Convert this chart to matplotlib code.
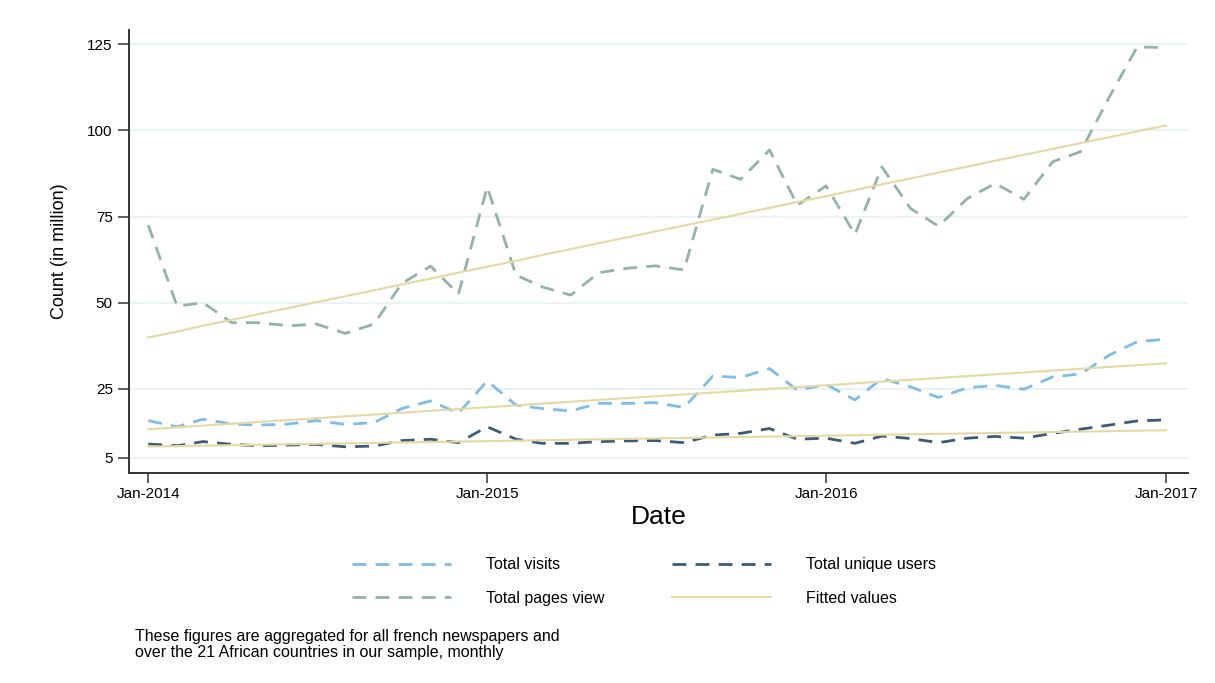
import numpy as np
import pandas as pd
import matplotlib
matplotlib.use("Agg")
import matplotlib.pyplot as plt
import matplotlib.dates as mdates

plt.rcParams["font.family"] = ["Liberation Sans", "DejaVu Sans"]

# monthly series, Jan-2014 .. Jan-2017 (millions)
months = pd.date_range("2014-01-01", periods=37, freq="MS")
total_visits = [15.8, 14.0, 16.2, 14.8, 14.5, 14.8, 15.8, 14.7, 15.2, 19.3, 21.5, 17.9,
                27.3, 20.3, 19.3, 18.6, 20.8, 20.8, 21.0, 19.6, 28.7, 28.3, 30.9, 24.6,
                26.3, 21.8, 28.0, 25.6, 22.5, 25.3, 26.0, 24.9, 28.5, 29.3, 34.8, 38.7, 39.4]
unique_users = [9.0, 8.5, 9.7, 8.9, 8.5, 8.7, 8.9, 8.2, 8.4, 10.0, 10.4, 9.4,
                14.0, 10.4, 9.2, 9.2, 9.7, 9.9, 10.0, 9.4, 11.6, 12.1, 13.5, 10.4,
                10.7, 9.2, 11.3, 10.6, 9.4, 10.7, 11.2, 10.7, 12.1, 13.3, 14.5, 15.7, 16.0]
pages_view = [72.5, 49.0, 50.0, 44.2, 44.2, 43.3, 43.8, 41.1, 43.8, 55.6, 60.6, 52.5,
              83.6, 58.0, 54.6, 52.2, 58.7, 60.0, 60.7, 59.5, 88.7, 85.8, 94.3, 78.3,
              83.9, 69.8, 89.4, 77.3, 72.2, 80.2, 84.6, 80.0, 90.9, 93.8, 109.7, 124.2, 124.0]
y_ticks = [5, 25, 50, 75, 100, 125]

c_visits = "#7dbde8"
c_users = "#3b5c78"
c_pages = "#93b3a5"
c_fit = "#e6d8a2"

t = np.arange(len(months))

fig = plt.figure(figsize=(12.15, 6.83), dpi=100)
ax = fig.add_axes([0.106, 0.308, 0.872, 0.648])

for yt in y_ticks:
    ax.axhline(yt, color="#eaf2f4", lw=1.6, zorder=0)

dash = (5, 3.3)
l1, = ax.plot(months, total_visits, color=c_visits, lw=2.0, dashes=dash)
l2, = ax.plot(months, unique_users, color=c_users, lw=2.0, dashes=dash)
l3, = ax.plot(months, pages_view, color=c_pages, lw=2.0, dashes=dash)

# linear trends
l4 = None
for series in (pages_view, total_visits, unique_users):
    b, a = np.polyfit(t, series, 1)
    l4, = ax.plot(months, a + b * t, color=c_fit, lw=1.5)

ax.set_xlim(months[0] - pd.Timedelta(days=21), months[-1] + pd.Timedelta(days=24))
ax.set_ylim(0.7, 129.1)
ax.set_yticks(y_ticks)
ax.set_xticks([pd.Timestamp("2014-01-01"), pd.Timestamp("2015-01-01"),
               pd.Timestamp("2016-01-01"), pd.Timestamp("2017-01-01")])
ax.xaxis.set_major_formatter(mdates.DateFormatter("%b-%Y"))
ax.tick_params(axis="both", labelsize=11, length=7, width=1.2, color="#444444", direction="out")
ax.tick_params(axis="y", length=8)
ax.spines["top"].set_visible(False)
ax.spines["right"].set_visible(False)
for s in ("left", "bottom"):
    ax.spines[s].set_linewidth(1.4)
    ax.spines[s].set_color("#333333")

ax.set_xlabel("Date", fontsize=19, labelpad=3)
ax.set_ylabel("Count (in million)", fontsize=13, labelpad=14)

leg_kw = dict(ncol=1, frameon=False, fontsize=11.5, handlelength=6.2,
              handletextpad=2.2, labelspacing=1.15, loc="upper left")
fig.legend([l1, l3], ["Total visits", "Total pages view"],
           bbox_to_anchor=(0.278, 0.205), **leg_kw)
fig.legend([l2, l4], ["Total unique users", "Fitted values"],
           bbox_to_anchor=(0.541, 0.205), **leg_kw)

fig.text(0.111, 0.034,
         "These figures are aggregated for all french newspapers and\n"
         "over the 21 African countries in our sample, monthly",
         fontsize=11.5, linespacing=1.1, va="bottom")

fig.savefig("out.png", dpi=100, facecolor="white")
